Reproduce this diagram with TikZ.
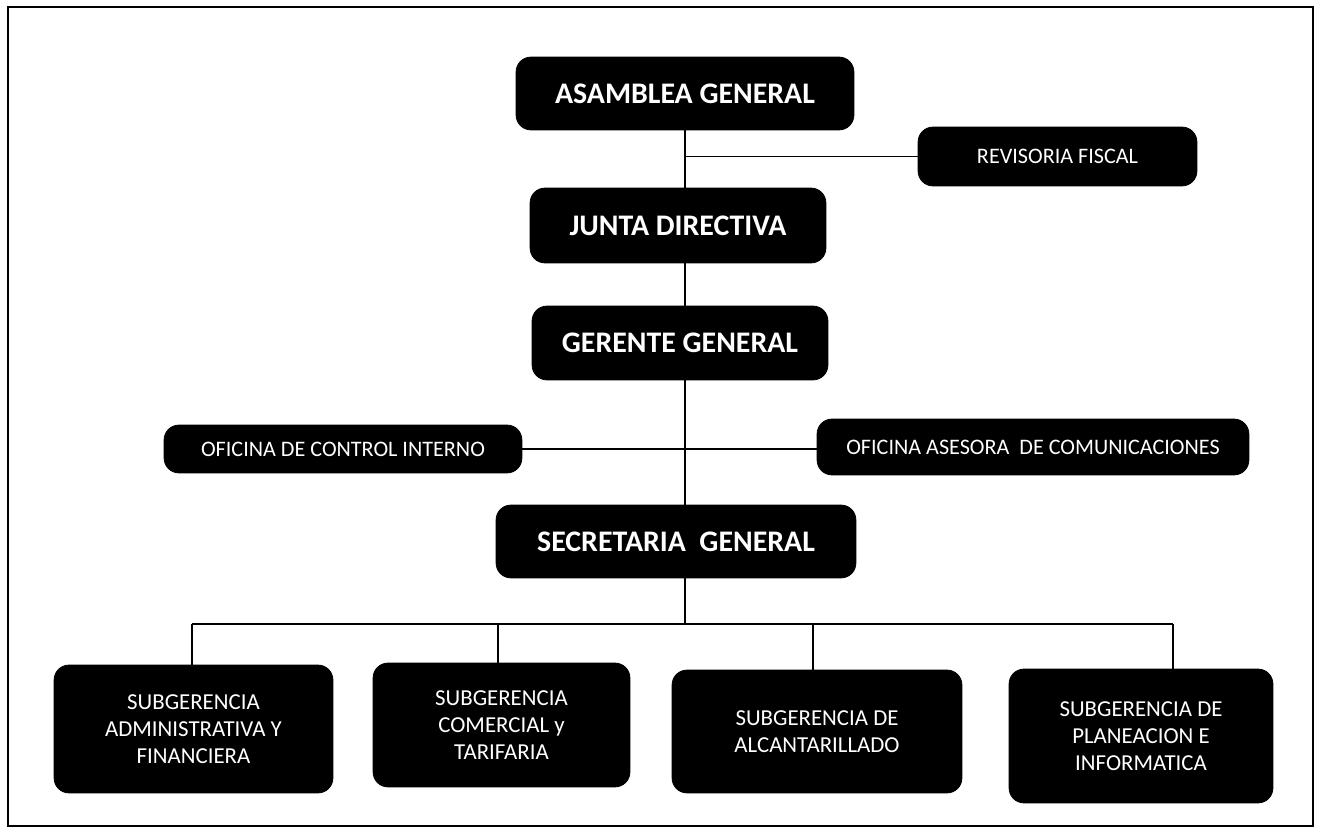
\documentclass[tikz,border=0pt]{standalone}
\usepackage{fontspec}
\setmainfont{Carlito}

\begin{document}
\begin{tikzpicture}[x=0.02cm, y=-0.02cm,
	box/.style={fill=black, draw=black, rounded corners=0.3cm, text=white, align=center, inner sep=0pt},
	big/.style={box, font=\fontsize{17}{20}\selectfont\bfseries},
	small/.style={box, font=\fontsize{12.6}{15}\selectfont},
	subbox/.style={box, font=\fontsize{13}{15.5}\selectfont},
	link/.style={line width=0.6pt}]
	\useasboundingbox (0,0) rectangle (1326,838);
	\draw[line width=1.2pt] (8,7) rectangle (1313,826);
	% upper levels
	\node[big, minimum width=6.76cm, minimum height=1.46cm] (asamblea) at (685,93.5) {ASAMBLEA GENERAL};
	\node[small, minimum width=5.58cm, minimum height=1.18cm] (revisoria) at (1057.5,156.5) {REVISORIA FISCAL};
	\node[big, minimum width=5.92cm, minimum height=1.5cm] (junta) at (678,225.5) {JUNTA DIRECTIVA};
	\node[big, minimum width=5.92cm, minimum height=1.48cm] (gerente) at (680,343) {GERENTE GENERAL};
	\node[small, minimum width=7.16cm, minimum height=0.96cm] (control) at (343,449) {OFICINA DE CONTROL INTERNO};
	\node[small, minimum width=8.64cm, minimum height=1.12cm] (comunic) at (1033,447) {OFICINA ASESORA\ \ DE COMUNICACIONES};
	\node[big, minimum width=7.2cm, minimum height=1.46cm] (secretaria) at (676,541.5) {SECRETARIA\ \ GENERAL};
	% subgerencias
	\node[subbox, minimum width=5.58cm, minimum height=2.56cm] (subadm) at (193.5,729) {SUBGERENCIA\\ADMINISTRATIVA Y\\FINANCIERA};
	\node[subbox, minimum width=5.14cm, minimum height=2.48cm] (subcom) at (501.5,725) {SUBGERENCIA\\COMERCIAL y\\TARIFARIA};
	\node[subbox, minimum width=5.8cm, minimum height=2.46cm] (subalc) at (817,731.5) {SUBGERENCIA DE\\ALCANTARILLADO};
	\node[subbox, minimum width=5.28cm, minimum height=2.68cm] (subpla) at (1141,736) {SUBGERENCIA DE\\PLANEACION E\\INFORMATICA};
	% connectors
	\coordinate (spine) at (asamblea.south);
	\coordinate (bus) at (685,624);
	\draw[link] (spine) -- (spine |- junta.north);
	\draw[link] (revisoria.west) -- (revisoria.west -| spine);
	\draw[link] (spine |- junta.south) -- (spine |- gerente.north);
	\draw[link] (spine |- gerente.south) -- (spine |- secretaria.north);
	\draw[link] (control.east) -- (control.east -| comunic.west);
	\draw[link] (spine |- secretaria.south) -- (bus);
	\draw[link] ([xshift=-0.03cm]subadm.north |- bus) -- ([xshift=0.64cm]subpla.north |- bus);
	\draw[link] ([xshift=-0.03cm]subadm.north) -- ([xshift=-0.03cm]subadm.north |- bus);
	\draw[link] ([xshift=-0.07cm]subcom.north) -- ([xshift=-0.07cm]subcom.north |- bus);
	\draw[link] ([xshift=-0.08cm]subalc.north) -- ([xshift=-0.08cm]subalc.north |- bus);
	\draw[link] ([xshift=0.64cm]subpla.north) -- ([xshift=0.64cm]subpla.north |- bus);
\end{tikzpicture}
\end{document}
